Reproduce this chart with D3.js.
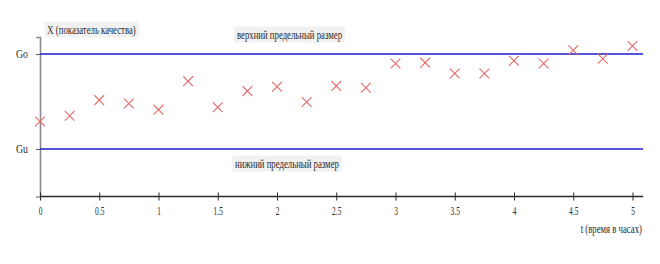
<!DOCTYPE html>
<html>
<head>
<meta charset="utf-8">
<script src="https://cdnjs.cloudflare.com/ajax/libs/d3/7.8.5/d3.min.js"></script>
<style>
  body { margin: 0; background: #fff; }
  text { font-family: "Liberation Serif", "Times New Roman", serif; fill: #2a2a2a; }
</style>
</head>
<body>
<div id="vis"></div>
<script>
// time in hours
var times = [0, 0.25, 0.5, 0.75, 1, 1.25, 1.5, 1.75, 2, 2.25, 2.5, 2.75, 3, 3.25, 3.5, 3.75, 4, 4.25, 4.5, 4.75, 5];
// quality index X (Gu = 1, Go = 3)
var quality = [1.58, 1.70, 2.03, 1.96, 1.83, 2.43, 1.88, 2.22, 2.31, 1.99, 2.33, 2.29, 2.80, 2.82, 2.59, 2.59, 2.86, 2.80, 3.08, 2.90, 3.17];

var tTicks = [0, 0.5, 1, 1.5, 2, 2.5, 3, 3.5, 4, 4.5, 5];
var limitValues = [3, 1];
var limitNames = ['Go', 'Gu'];
var limitCaptions = ['верхний предельный размер', 'нижний предельный размер'];

var yTitle = 'X (показатель качества)';
var xTitle = 't (время в часах)';

//setup drawing area
var svgW = 660, svgH = 264;
var svg = d3.select('#vis').append('svg').attr('width', svgW).attr('height', svgH);
var g = svg.append('g');

var x = d3.scaleLinear().domain([0, 5]).range([40, 632.5]);
var y = d3.scaleLinear().domain([0, 3.36]).range([196.5, 37]);
var xEnd = x(5.09);
var squeeze = 0.7; // the source lettering is narrow

//y axis (gray)
var yAx = g.append('g').attr('transform', 'translate(' + x(0) + ',0)')
  .call(d3.axisLeft(y).tickValues(limitValues).tickSize(4).tickPadding(0)
    .tickFormat(function (d, i) { return limitNames[i]; }));
yAx.select('.domain').attr('stroke', '#8a8a8a').attr('stroke-width', 1.6);
yAx.selectAll('.tick line').attr('stroke', '#555');
yAx.selectAll('.tick text').style('font-size', '12px').attr('x', 0)
  .attr('transform', 'translate(-12,0) scale(0.82,1)').attr('fill', '#2a2a2a');

//limit lines
g.selectAll('.limit').data(limitValues).enter().append('line').attr('class', 'limit')
  .attr('x1', x(0)).attr('x2', xEnd)
  .attr('y1', function (d) { return y(d); }).attr('y2', function (d) { return y(d); })
  .attr('stroke', '#1c1cc8').attr('stroke-width', 1.5);

//x axis
var xAx = g.append('g').attr('transform', 'translate(0,' + y(0) + ')')
  .call(d3.axisBottom(x).tickValues(tTicks).tickSizeOuter(0).tickSizeInner(4).tickPadding(6)
    .tickFormat(function (d) { return String(d); }));
xAx.select('.domain').attr('d', 'M' + x(0) + ',0H' + xEnd).attr('stroke', '#2a2a2a').attr('stroke-width', 1.5);
xAx.selectAll('.tick line').attr('y1', -4).attr('y2', 4).attr('stroke', '#2a2a2a');
xAx.selectAll('.tick text').style('font-size', '12px').attr('transform', 'scale(0.62,1)').attr('fill', '#2a2a2a');

//label helper, optionally on a light box
function boxLabel(txt, cx, cy, anchor, boxed) {
  var lg = g.append('g').attr('transform', 'translate(' + cx + ',' + cy + ') scale(' + squeeze + ',1)');
  var t = lg.append('text').text(txt).attr('x', 0).attr('y', 0)
    .attr('dy', '0.35em').attr('text-anchor', anchor)
    .style('font-size', '12.5px');
  if (boxed) {
    var b = t.node().getBBox();
    lg.insert('rect', 'text').attr('x', b.x - 4).attr('y', -8)
      .attr('width', b.width + 8).attr('height', 16).attr('fill', '#f1f1f1');
  }
  return lg;
}

boxLabel(yTitle, 91.5, 29.5, 'middle', true);
boxLabel(limitCaptions[0], 289.5, y(limitValues[0]) - 19.5, 'middle', true);
boxLabel(limitCaptions[1], 287, y(limitValues[1]) + 14.5, 'middle', true);
boxLabel(xTitle, 642, 229, 'end', false);

//points
var sym = d3.symbol().type(d3.symbolX).size(64);
g.selectAll('.pt').data(quality).enter().append('path').attr('class', 'pt')
  .attr('d', sym)
  .attr('transform', function (d, i) { return 'translate(' + x(times[i]) + ',' + y(d) + ')'; })
  .attr('fill', 'none').attr('stroke', '#e36a6a').attr('stroke-width', 1.1);
</script>
</body>
</html>
